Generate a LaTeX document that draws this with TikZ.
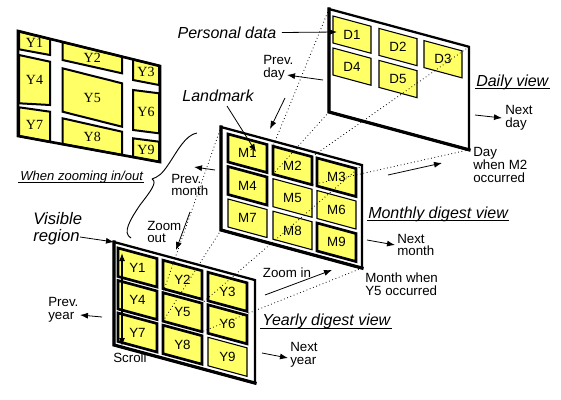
\documentclass[tikz,border=0pt]{standalone}
\usepackage{fontspec}
\setmainfont{Liberation Sans}
\newfontfamily\yserif{Liberation Serif}
\usetikzlibrary{arrows.meta,calc}
\definecolor{cellyellow}{RGB}{255,255,102}
\def\slope{0.27}
\tikzset{
  panelbox/.style={draw=black, line width=1.7pt, fill=white, line join=miter},
  panelshade/.style={line width=2.4pt, line cap=rect},
  thickcell/.style={draw=black, fill=cellyellow, line width=2pt},
  thincell/.style={draw=black, fill=cellyellow, line width=0.8pt},
  celltext/.style={font=\fontsize{10}{10}\selectfont, inner sep=0pt},
  fishcell/.style={draw=black, fill=cellyellow, line width=1.5pt, line join=miter},
  fishtext/.style={font=\yserif\fontsize{10.5}{10.5}\selectfont, inner sep=0pt},
  proj/.style={dotted, line width=0.6pt},
  arr/.style={-{Latex[length=6pt,width=4.5pt]}, line width=0.6pt},
  dblarr/.style={{Latex[length=6pt,width=4.5pt]}-{Latex[length=6pt,width=4.5pt]}, line width=0.8pt},
  lbl/.style={font=\fontsize{10}{9.4}\selectfont, align=left, inner sep=0pt},
  vtitle/.style={font=\itshape\fontsize{12}{12}\selectfont, inner sep=0pt},
  uline/.style={line width=0.7pt},
}
\newcommand\mkpanel[5]{%
  \path[panelbox] (#2,#3) coordinate (#1-tl) -- ++(#4,{#4*\slope}) coordinate (#1-tr) -- ++(0,#5) coordinate (#1-br) -- ++(-#4,{-#4*\slope}) coordinate (#1-bl) -- cycle;
  \draw[panelshade] (#1-tl) -- (#1-bl) -- (#1-br);
}
\newcommand\mkcell[7]{%
  \draw[#6] (#2,#3) coordinate (#1-tl) -- ++(#4,{#4*\slope}) coordinate (#1-tr) -- ++(0,#5) coordinate (#1-br) -- ++(-#4,{-#4*\slope}) coordinate (#1-bl) -- cycle;
  \node[celltext] (#1) at ($(#1-tl)!0.5!(#1-br)$) {#7};
}
\newcommand\fcell[6]{%
  \draw[fishcell] #2 coordinate (#1-tl) -- #3 -- #4 coordinate (#1-br) -- #5 -- cycle;
  \node[fishtext] (#1) at ($(#1-tl)!0.5!(#1-br)$) {#6};
}
\begin{document}
\begin{tikzpicture}[x=0.75pt,y=-0.75pt]
\useasboundingbox (0,0) rectangle (561,400);

% ---------- fisheye overview panel ----------
\fill[white] (18,31) -- (160,66) -- (160,162) -- (18,136) -- cycle;
\fcell{F1}{(19,31.5)}{(50,39.2)}{(50,55)}{(19,49.3)}{Y1}
\fcell{F4}{(19,55)}{(50,61.7)}{(50,105)}{(19,103.3)}{Y4}
\fcell{F7}{(19,107.3)}{(50,111.7)}{(50,141.9)}{(19,136)}{Y7}
\fcell{F2}{(62.5,42)}{(122,56.6)}{(122,73.3)}{(62.5,60)}{Y2}
\fcell{F5}{(62.5,68.3)}{(122,83.3)}{(122,126.7)}{(62.5,111.7)}{Y5}
\fcell{F8}{(62.5,118.3)}{(122,131.7)}{(122,155)}{(62.5,144.1)}{Y8}
\fcell{F3}{(133,59.3)}{(159,65.7)}{(159,85)}{(133,80)}{Y3}
\fcell{F6}{(133,90)}{(159,93.3)}{(159,133.3)}{(133,130)}{Y6}
\fcell{F9}{(133,138.3)}{(159,141.7)}{(159,161.8)}{(133,157)}{Y9}
\draw[line width=2pt, line join=miter] (18,31) coordinate (FP-tl) -- (160,66) coordinate (FP-tr) -- (160,162) coordinate (FP-br) -- (18,136) coordinate (FP-bl) -- cycle;

% ---------- daily panel ----------
\mkpanel{DP}{329}{9}{140}{103}
\mkcell{D1}{333}{16}{38}{27}{thincell}{D1}
\mkcell{D2}{379}{28.4}{38}{27}{thincell}{D2}
\mkcell{D3}{424}{40.6}{38}{27}{thincell}{D3}
\mkcell{D4}{333}{48}{38}{27}{thincell}{D4}
\mkcell{D5}{379}{60.4}{38}{27}{thincell}{D5}

% ---------- monthly panel ----------
\mkpanel{MP}{221}{127}{141}{103}
\mkcell{M1}{228}{134}{39}{28}{thickcell}{M1}
\mkcell{M2}{273}{146.2}{39}{28}{thickcell}{M2}
\mkcell{M3}{317}{158}{39}{28}{thickcell}{M3}
\mkcell{M4}{228}{166.5}{39}{28}{thickcell}{M4}
\mkcell{M5}{273}{178.7}{39}{28}{thincell}{M5}
\mkcell{M6}{317}{190.5}{39}{28}{thincell}{M6}
\mkcell{M7}{228}{199}{39}{28}{thincell}{M7}
\mkcell{M8}{273}{211.2}{39}{28}{thincell}{M8}
\mkcell{M9}{317}{223}{39}{28}{thickcell}{M9}

% ---------- yearly panel ----------
\mkpanel{YP}{114}{242}{141}{103}
\mkcell{Y1}{118}{248}{39}{28.5}{thickcell}{Y1}
\mkcell{Y2}{163}{260.2}{39}{28.5}{thickcell}{Y2}
\mkcell{Y3}{208}{272.3}{39}{28.5}{thickcell}{Y3}
\mkcell{Y4}{118}{280.5}{39}{28.5}{thickcell}{Y4}
\mkcell{Y5}{163}{292.7}{39}{28.5}{thickcell}{Y5}
\mkcell{Y6}{208}{304.8}{39}{28.5}{thickcell}{Y6}
\mkcell{Y7}{118}{313}{39}{28.5}{thickcell}{Y7}
\mkcell{Y8}{163}{325.2}{39}{28.5}{thickcell}{Y8}
\mkcell{Y9}{208}{337.3}{39}{28.5}{thincell}{Y9}

% ---------- projection lines ----------
\draw[proj] (DP-tl) -- (M2-tl);
\draw[proj] (DP-tr) -- (M2-tr);
\draw[proj] (DP-br) -- (M2-br);
\draw[proj] (DP-bl) -- (M2-bl);
\draw[proj] (MP-tl) -- (Y5-tl);
\draw[proj] (MP-tr) -- (Y5-tr);
\draw[proj] (MP-br) -- (Y5-br);
\draw[proj] (MP-bl) -- (Y5-bl);

% ---------- labels and arrows ----------
\node[vtitle, anchor=center] (personal) at (227,33) {Personal data};
\coordinate (pdtip) at (337,32);
\draw[arr, shorten <=4pt] (personal) -- (pdtip);

\node[lbl, anchor=west] (prevday) at (263,68) {Prev.\\day};
\coordinate (pdA) at (323,80); \coordinate (pdB) at (287,75);
\draw[arr] (pdA) -- (pdB);

\coordinate (zoA) at (285,98); \coordinate (zoB) at (270,129);
\draw[arr] (zoA) -- (zoB);

\node[vtitle, anchor=center] (landmark) at (218,96) {Landmark};
\coordinate (lmA) at (227,106); \coordinate (lmB) at (256,152);
\draw[arr] (lmA) -- (lmB);

\node[lbl, anchor=west] (prevmonth) at (171,185) {Prev.\\month};
\coordinate (pmA) at (215,170); \coordinate (pmB) at (194,167);
\draw[arr] (pmA) -- (pmB);

\node[font=\itshape\fontsize{9.8}{10}\selectfont, inner sep=0pt, anchor=base west] (whenzoom) at (20,180) {When zooming in/out};
\draw[uline] ($(whenzoom.base west)+(-2,2.5)$) -- ($(whenzoom.base east)+(1,2.5)$);
\coordinate (brTop) at (197,133); \coordinate (brTip) at (152,179); \coordinate (brBot) at (131,238);
\draw[line width=0.7pt] (brTop) .. controls (185,135) and (177,152) .. (168,165) .. controls (162,174) and (158,177) .. (brTip);
\draw[line width=0.7pt] (brTip) .. controls (158,182) and (150,192) .. (140,205) .. controls (130,220) and (122,233) .. (brBot);

\node[lbl, anchor=west] (zoomout) at (147,232) {Zoom\\out};
\coordinate (zyA) at (190,212); \coordinate (zyB) at (176,250);
\draw[arr] (zyA) -- (zyB);

\node[font=\itshape\fontsize{12.5}{12.5}\selectfont, align=left, inner sep=0pt, anchor=west] (visible) at (33,229) {Visible\\region};
\coordinate (vrA) at (80,237);
\draw[arr] (vrA) -- (YP-tl);

\node[lbl, anchor=west] (prevyear) at (48,310) {Prev.\\year};
\coordinate (pyA) at (102,317); \coordinate (pyB) at (80,315);
\draw[arr] (pyA) -- (pyB);

\coordinate (scA) at (122,346); \coordinate (scB) at (122,253);
\draw[dblarr] (scA) -- (scB);
\node[lbl, anchor=center] (scroll) at (130,358) {Scroll};

\node[lbl, anchor=center] (zoomin) at (287,273) {Zoom in};
\coordinate (ziA) at (265,295); \coordinate (ziB) at (332,270);
\draw[arr] (ziA) -- (ziB);

\node[lbl, anchor=west] (monthwhen) at (365,284) {Month when\\Y5 occurred};

\node[vtitle, anchor=base west] (yearlyt) at (262,325.5) {Yearly digest view};
\draw[uline] ($(yearlyt.base west)+(-2,2.8)$) -- ($(yearlyt.base east)+(1,2.8)$);

\node[lbl, anchor=west] (nextyear) at (290,355) {Next\\year};
\coordinate (nyA) at (262,353); \coordinate (nyB) at (288,358);
\draw[arr] (nyA) -- (nyB);

\node[lbl, anchor=west] (nextmonth) at (397,245) {Next\\month};
\coordinate (nmA) at (367,240); \coordinate (nmB) at (395,245);
\draw[arr] (nmA) -- (nmB);

\node[vtitle, anchor=base west] (monthlyt) at (368,218) {Monthly digest view};
\draw[uline] ($(monthlyt.base west)+(-1,2.8)$) -- ($(monthlyt.base east)+(1,2.8)$);

\coordinate (mdA) at (388,175); \coordinate (mdB) at (442,163);
\draw[arr] (mdA) -- (mdB);

\node[vtitle, anchor=base west] (dailyt) at (476,86) {Daily view};
\draw[uline] ($(dailyt.base west)+(-1,2.6)$) -- ($(dailyt.base east)+(1,2.6)$);

\node[lbl, anchor=west] (nextday) at (505,118) {Next\\day};
\coordinate (ndA) at (475,115); \coordinate (ndB) at (502,118);
\draw[arr] (ndA) -- (ndB);

\node[lbl, anchor=west] (daywhen) at (473,165) {Day\\when M2\\occurred};
\end{tikzpicture}
\end{document}
